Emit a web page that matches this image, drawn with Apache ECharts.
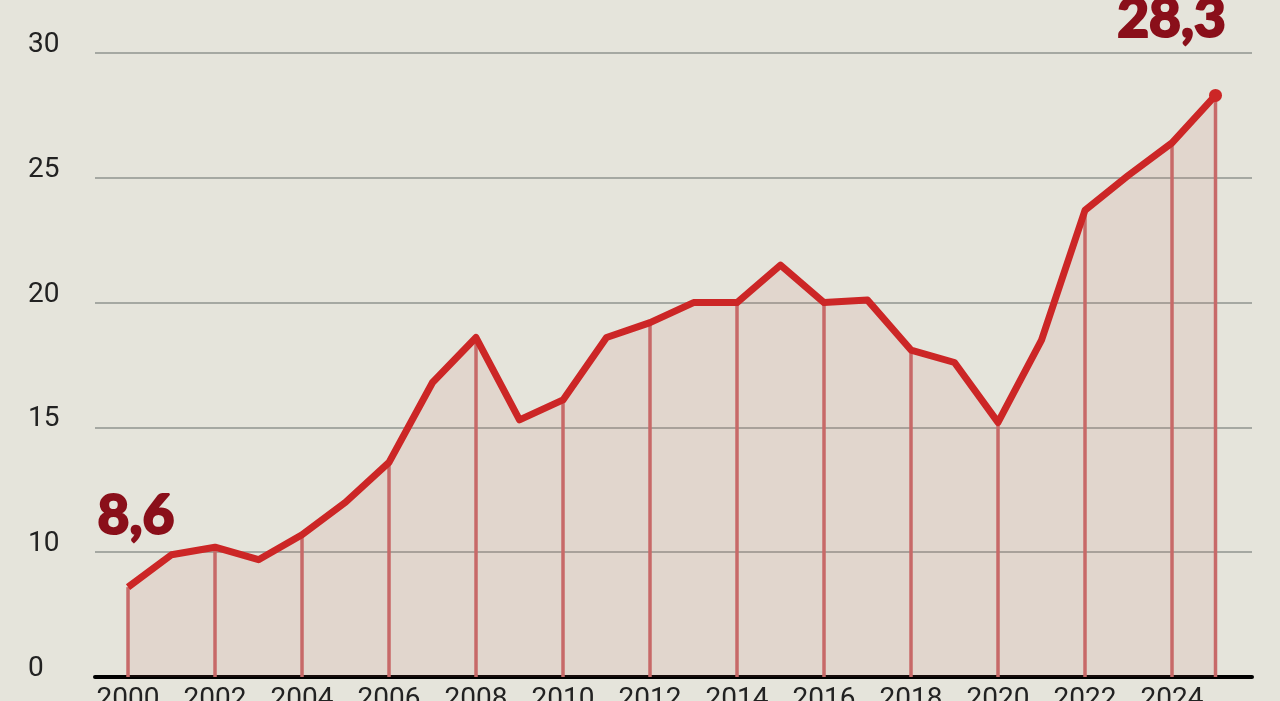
<!DOCTYPE html>
<html>
<head>
<meta charset="utf-8">
<script src="https://cdn.jsdelivr.net/npm/echarts@6/dist/echarts.min.js"></script>
<style>
html,body{margin:0;padding:0;background:#e5e4db;}
#chart{width:1280px;height:701px;}
</style>
</head>
<body>
<div id="chart"></div>
<script>
// Data
const years = [2000,2001,2002,2003,2004,2005,2006,2007,2008,2009,2010,2011,2012,2013,2014,2015,2016,2017,2018,2019,2020,2021,2022,2023,2024,2025];
const values = [8.6,9.9,10.2,9.7,10.7,12.0,13.6,16.8,18.6,15.3,16.1,18.6,19.2,20.0,20.0,21.5,20.0,20.1,18.1,17.6,15.2,18.5,23.7,25.1,26.4,28.3];
const xTickLabels = [2000,2002,2004,2006,2008,2010,2012,2014,2016,2018,2020,2022,2024];
const dropYears = [2000,2002,2004,2006,2008,2010,2012,2014,2016,2018,2020,2022,2024,2025];
const yMin = 5, yMax = 30, yStep = 5; // bottom gridline (value 5) is labelled "0"

const lineData = years.map((y, i) => {
  const item = { value: [y, values[i]] };
  if (i === 0) {
    item.label = { show: true, position: 'inside', offset: [8, -71] };
  } else if (i === years.length - 1) {
    item.label = { show: true, position: 'inside', offset: [-44, -76] };
  }
  return item;
});
const dropData = dropYears.map(y => [y, values[years.indexOf(y)]]);

const chart = echarts.init(document.getElementById('chart'));
chart.setOption({
  backgroundColor: '#e5e4db',
  animation: false,
  grid: { left: 95, right: 28, top: 53, bottom: 24, containLabel: false, outerBoundsMode: 'none' },
  xAxis: {
    type: 'value',
    min: 1999.241,
    max: 2025.839,
    splitLine: { show: false },
    axisTick: { show: false },
    axisLine: { show: true, lineStyle: { color: '#000', width: 4 } },
    axisLabel: {
      customValues: xTickLabels,
      formatter: v => String(v),
      margin: 9,
      fontFamily: 'Roboto',
      fontSize: 28,
      color: '#222'
    }
  },
  yAxis: {
    type: 'value',
    min: yMin,
    max: yMax,
    interval: yStep,
    axisLine: { show: false },
    axisTick: { show: false },
    splitLine: { show: true, lineStyle: { color: '#8f958f', width: 1.5 } },
    axisLabel: {
      formatter: v => (v === yMin ? '0' : String(v)),
      align: 'left',
      margin: 67,
      verticalAlign: 'bottom',
      lineHeight: 16,
      fontFamily: 'Roboto',
      fontSize: 28,
      color: '#222'
    }
  },
  series: [
    {
      type: 'line',
      data: lineData,
      z: 3,
      showAllSymbol: true,
      symbol: 'circle',
      symbolSize: (val, params) => (params.dataIndex === years.length - 1 ? 13 : 0),
      itemStyle: { color: '#cc2626' },
      lineStyle: { color: '#cc2626', width: 7, join: 'round' },
      areaStyle: { color: 'rgba(200,100,90,0.15)', origin: 'start' },
      label: {
        show: false,
        formatter: p => String(p.value[1]).replace('.', ','),
        fontFamily: 'Lato',
        fontWeight: 900,
        fontSize: 55,
        color: '#8a0f1a',
        textBorderColor: '#8a0f1a',
        textBorderWidth: 2
      }
    },
    {
      type: 'custom',
      z: 2,
      data: dropData,
      renderItem: (params, api) => {
        const x = api.value(0);
        const top = api.coord([x, api.value(1)]);
        const bot = api.coord([x, yMin]);
        return {
          type: 'line',
          shape: { x1: top[0], y1: top[1], x2: bot[0], y2: bot[1] },
          style: { stroke: '#c86a6a', lineWidth: 3.5 }
        };
      }
    }
  ]
});
</script>
</body>
</html>
